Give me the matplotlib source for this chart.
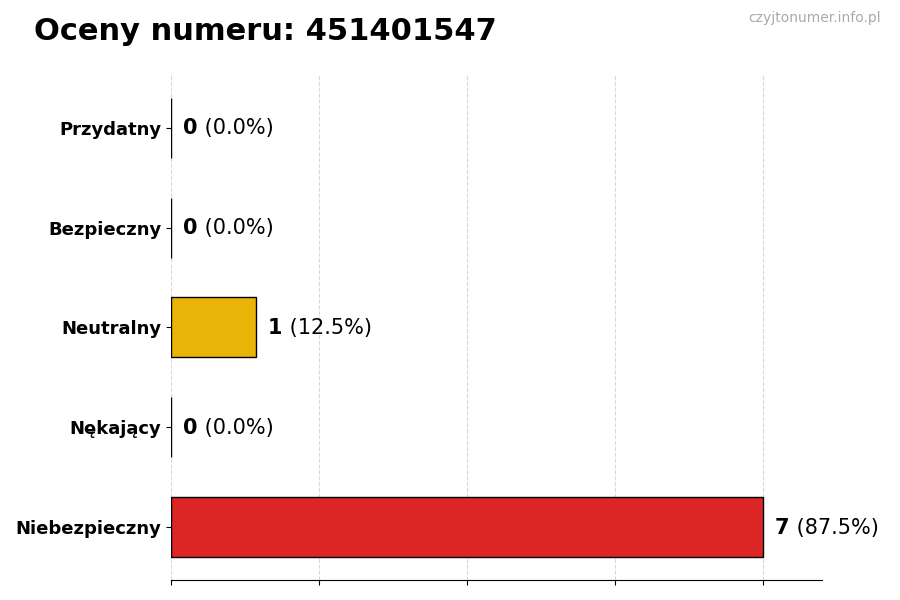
import matplotlib
matplotlib.use('Agg')
import matplotlib.pyplot as plt
import numpy as np

# data
categories = ['Przydatny', 'Bezpieczny', 'Neutralny', 'Nękający', 'Niebezpieczny']
counts = [0, 0, 1, 0, 7]
bar_colors = ['#22a55a', '#2b7bd8', '#eab308', '#f07c1e', '#dc2626']
number = '451401547'

total = sum(counts)
percents = [100.0 * c / total for c in counts]

fig = plt.figure(figsize=(9, 6), dpi=100)
ax = fig.add_axes([0.19, 0.0333, 0.723, 0.842])

y = np.arange(len(categories))[::-1]
ax.barh(y, counts, height=0.6, color=bar_colors, edgecolor='black', linewidth=1, zorder=2)

max_val = max(counts)
ax.set_xlim(0, max_val * 1.1)
ax.set_xticks(np.linspace(0, max_val, 5))
ax.set_xticklabels([])
ax.set_yticks(y)
ax.set_yticklabels(categories, fontsize=13, fontweight='bold')
ax.grid(axis='x', linestyle='--', color='#d8d8d8', linewidth=0.8, zorder=0)
ax.set_axisbelow(True)

for side in ['top', 'right', 'left']:
    ax.spines[side].set_visible(False)

for yi, c, p in zip(y, counts, percents):
    t1 = ax.annotate(str(c), xy=(c, yi), xytext=(9, -0.5), textcoords='offset points',
                     ha='left', va='center', fontsize=15, fontweight='bold')
    ax.annotate(' (%.1f%%)' % p, xy=(1, 0.5), xycoords=t1,
                ha='left', va='center', fontsize=15)

fig.text(0.038, 0.948, 'Oceny numeru: ' + number, fontsize=22, fontweight='bold',
         ha='left', va='center')
fig.text(0.979, 0.97, 'czyjtonumer.info.pl', fontsize=10, color='#aaaaaa',
         ha='right', va='center')

fig.savefig('out.png', dpi=100)
